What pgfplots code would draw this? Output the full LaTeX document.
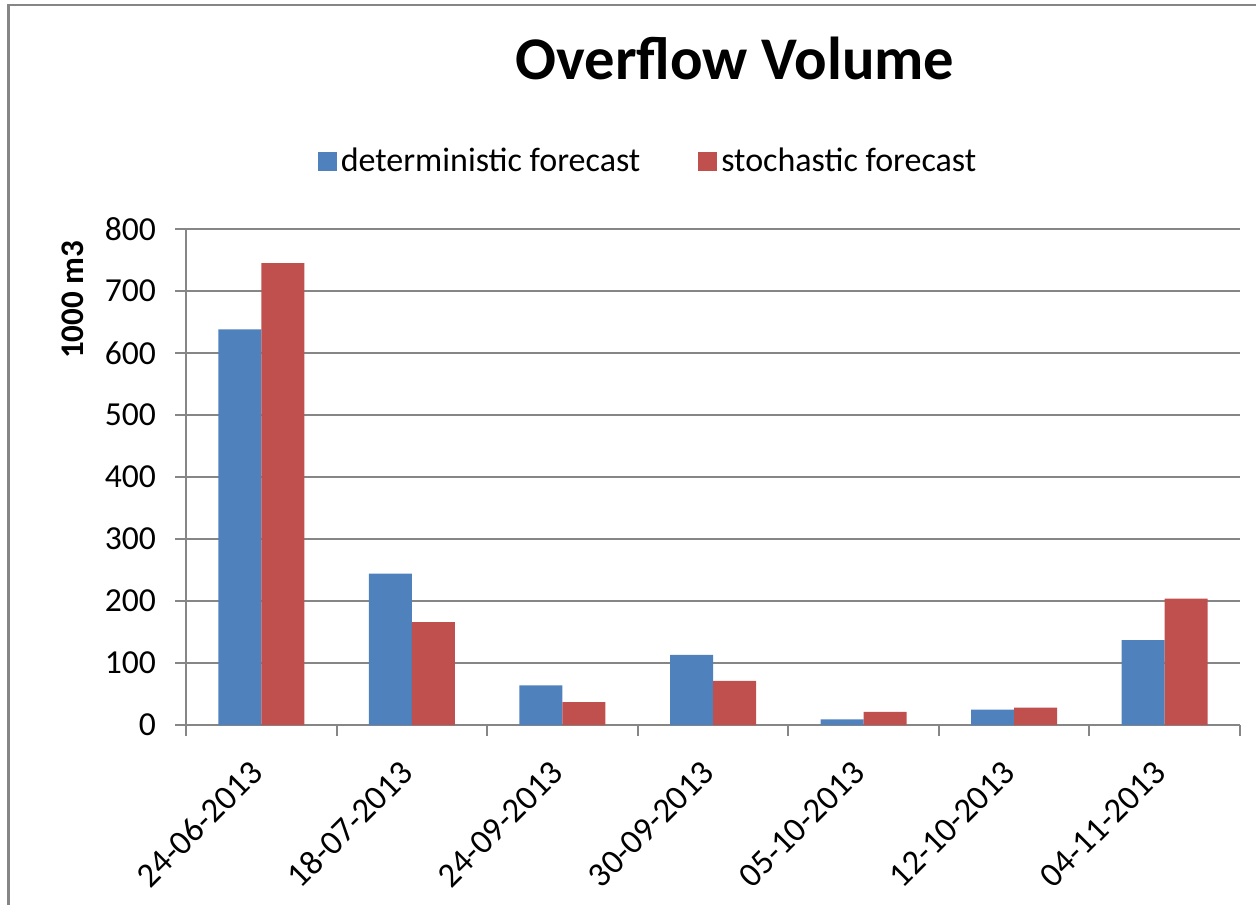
\documentclass[border=0pt]{standalone}
\usepackage{pgfplots}
\pgfplotsset{compat=1.18}
\usepackage{fontspec}
\setmainfont{Carlito}
\definecolor{detblue}{HTML}{4F81BD}
\definecolor{stored}{HTML}{C0504D}
\definecolor{gridgray}{HTML}{868686}

\begin{document}
\begin{tikzpicture}
\useasboundingbox (0,0) rectangle (628pt,-452pt);
% chart frame (left and top edges)
\draw[gridgray, line width=1.25pt] (4.25pt,-470pt) -- (4.25pt,-2.5pt) -- (640pt,-2.5pt);
\node[anchor=base, font=\fontsize{30.3}{36}\selectfont\bfseries] at (367.5pt,-40pt) {Overflow Volume};
\begin{axis}[
  at={(93pt,-362.5pt)}, anchor=south west,
  scale only axis, width=527pt, height=248pt,
  xmin=-0.5, xmax=6.5, ymin=0, ymax=800,
  ybar=0pt, bar width=21.5pt,
  xtick={-0.5,0.5,1.5,2.5,3.5,4.5,5.5,6.5},
  x tick label as interval,
  xticklabels={24-06-2013,18-07-2013,24-09-2013,30-09-2013,05-10-2013,12-10-2013,04-11-2013},
  ytick={0,100,...,800},
  ymajorgrids, grid style={gridgray, line width=1.15pt},
  axis x line*=bottom, axis y line*=left,
  axis line style={gridgray, line width=1.15pt, -},
  tick align=outside, major tick length=5.5pt,
  tick style={gridgray, line width=1pt},
  /pgf/number format/assume math mode=true,
  yticklabel style={font=\fontsize{16.8}{20}\selectfont, xshift=-6pt},
  xticklabel shift=13pt,
  xticklabel style={font=\fontsize{17.3}{20}\selectfont, rotate=45, anchor=east},
  ylabel={1000 m3},
  ylabel style={font=\fontsize{16.5}{20}\selectfont\bfseries, at={(axis description cs:-0.1077,0.857)}, anchor=center},
  legend columns=2,
  legend style={at={(axis description cs:0.4393,1.137)}, anchor=center, draw=none, fill=none,
    font=\fontsize{17}{20}\selectfont,
    /tikz/every even column/.append style={column sep=27pt}},
  legend image code/.code={\fill[#1] (-3pt,-4.75pt) rectangle (6.5pt,4.75pt);},
]
\addplot[fill=detblue, draw=none] coordinates {(0,638) (1,244) (2,64) (3,113) (4,9) (5,25) (6,137)};
\addlegendentry{deterministic forecast}
\addplot[fill=stored, draw=none] coordinates {(0,745) (1,166) (2,37) (3,71) (4,21) (5,28) (6,204)};
\addlegendentry{stochastic forecast}
\end{axis}
\end{tikzpicture}
\end{document}
